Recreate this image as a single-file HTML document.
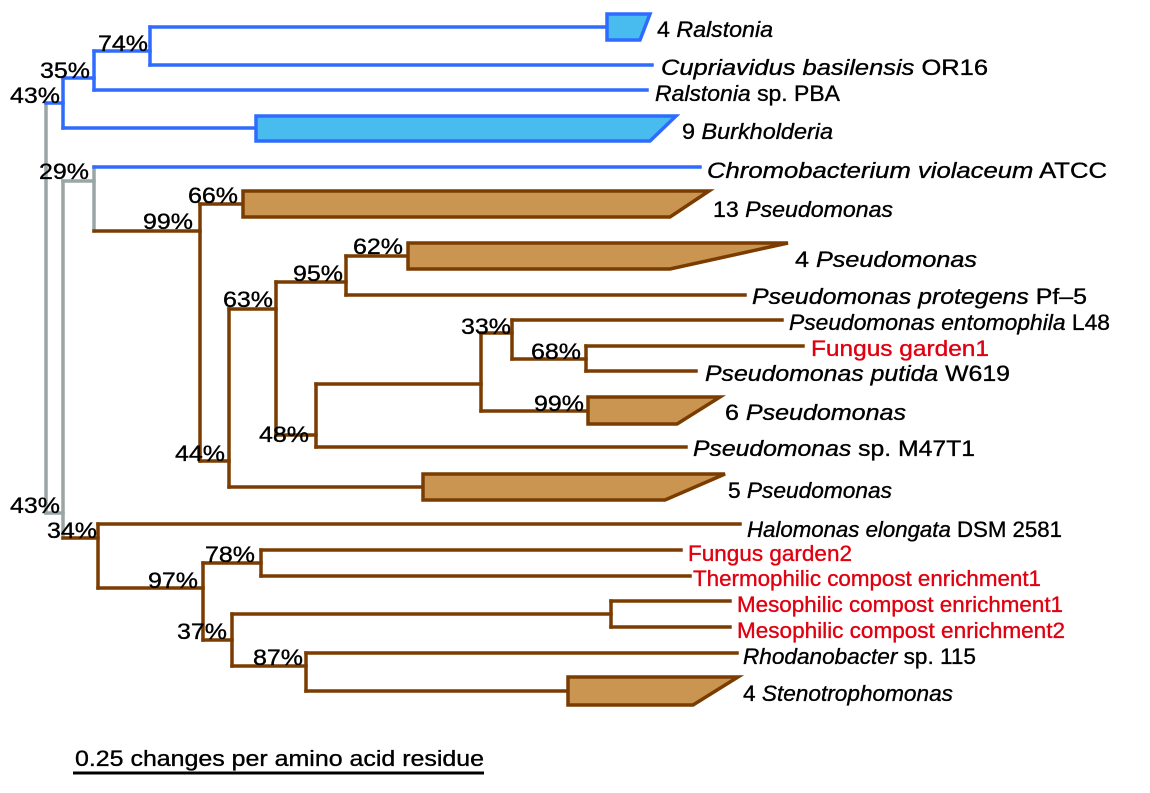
<!DOCTYPE html>
<html><head><meta charset="utf-8"><style>
html,body{margin:0;padding:0;background:#fff;}
svg{display:block;font-family:"Liberation Sans",Arial,sans-serif;}
.lab{font-size:22px;fill:#000;stroke:#000;stroke-width:0.35;}
.red{fill:#e00010;stroke:#e00010;}
.pct{font-size:22px;fill:#000;text-anchor:end;stroke:#000;stroke-width:0.35;}
</style></head><body>
<svg id="tree" width="1150" height="793" viewBox="0 0 1150 793" xmlns="http://www.w3.org/2000/svg"></svg>
<script>
// branch segments: [x1,y1,x2,y2]
var branchesBlue = [
 [46,103,63,103],[63,78,63,128],[63,78,94,78],[94,51,94,90],[94,51,150,51],[150,27,150,65],
 [150,27,607,27],[150,65,652,65],[94,90,647,90],[63,128,256,128],[94,167,700,167]
];
var branchesGray = [
 [46,103,46,513],[46,513,63,513],[63,181,63,538],[63,181,94,181],[94,167,94,231]
];
var branchesBrown = [
 [94,231,200,231],[200,204,200,461],[200,204,243,204],[200,461,229,461],[229,309,229,487],
 [229,309,276,309],[276,282,276,435],[276,282,346,282],[346,256,346,295],[346,256,408,256],
 [346,295,745,295],[276,435,316,435],[316,384,316,447],[316,384,481,384],[481,333,481,411],
 [481,333,512,333],[512,320,512,359],[512,320,782,320],[512,359,586,359],[586,346,586,371],
 [586,346,803,346],[586,371,696,371],[481,411,588,411],[316,447,686,447],[229,487,423,487],
 [63,538,98,538],[98,524,98,588],[98,524,740,524],[98,588,203,588],[203,563,203,640],
 [203,563,261,563],[261,550,261,576],[261,550,681,550],[261,576,690,576],[203,640,232,640],
 [232,614,232,666],[232,614,611,614],[611,601,611,627],[611,601,730,601],[611,627,730,627],
 [232,666,306,666],[306,653,306,691],[306,653,737,653],[306,691,568,691]
];
// collapsed clades: [xLeft, yTop, yBottom, xTopRight, xBottomRight, kind]
var clades = [
 [607,14,40,650,640,'b'],[256,116,141,676,650,'b'],
 [243,191,217,709,670,'t'],[408,243,269,788,670,'t'],[588,397,424,720,677,'t'],
 [423,474,500,725,665,'t'],[568,677,705,738,693,'t']
];
// tip labels: [x, baseline, endX, part1, part2, red?]
var tips = [
 [657,37,773,'4 ','Ralstonia',0],[661,75,988,'Cupriavidus basilensis',' OR16',0],
 [655,101,840,'Ralstonia',' sp. PBA',0],[682,139,833,'9 ','Burkholderia',0],
 [707,178,1107,'Chromobacterium violaceum',' ATCC',0],[713,217,893,'13 ','Pseudomonas',0],
 [795,267,977,'4 ','Pseudomonas',0],[752,304,1087,'Pseudomonas protegens',' Pf\u20135',0],
 [789,330,1110,'Pseudomonas entomophila',' L48',0],[811,356,989,'','Fungus garden1',1],
 [705,381,1010,'Pseudomonas putida',' W619',0],[725,420,906,'6 ','Pseudomonas',0],
 [693,456,975,'Pseudomonas',' sp. M47T1',0],[728,498,892,'5 ','Pseudomonas',0],
 [747,537,1062,'Halomonas elongata',' DSM 2581',0],[688,561,852,'','Fungus garden2',1],
 [693,586,1041,'','Thermophilic compost enrichment1',1],[737,612,1063,'','Mesophilic compost enrichment1',1],
 [737,638,1065,'','Mesophilic compost enrichment2',1],[743,664,976,'Rhodanobacter',' sp. 115',0],
 [743,701,953,'4 ','Stenotrophomonas',0]
];
var bootstrap = ['74%','35%','43%','29%','66%','99%','62%','95%','63%','33%','68%','99%','48%','44%','43%','34%','78%','97%','37%','87%'];
var bootPos = [[148,51],[90,78],[60,103],[89,179],[238,203],[193,229],[403,254],[343,281],[273,307],[511,334],[581,359],[584,411],[309,442],[225,461],[60,513],[97,538],[255,562],[198,588],[227,639],[303,665]];

var NS='http://www.w3.org/2000/svg';
var svg=document.getElementById('tree');
function mk(t,a){var e=document.createElementNS(NS,t);for(var k in a)e.setAttribute(k,a[k]);svg.appendChild(e);return e;}
function drawSegs(arr,col,name){
 arr.forEach(function(s){
  var l=mk('line',{x1:s[0],y1:s[1],x2:s[2],y2:s[3],stroke:col,'stroke-width':3.5,'stroke-linecap':'square'});
  
  
 });
}
drawSegs(branchesGray,'#9aa6a6','branch-backbone');
drawSegs(branchesBlue,'#2f6bff','branch-betaproteobacteria');
drawSegs(branchesBrown,'#7a3c00','branch-gammaproteobacteria');
clades.forEach(function(c){
 var blue=c[5]==='b';
 var p=mk('polygon',{points:c[0]+','+c[1]+' '+c[3]+','+c[1]+' '+c[4]+','+c[2]+' '+c[0]+','+c[2],
  fill:blue?'#48bcee':'#c99550',stroke:blue?'#2f6bff':'#7a3c00','stroke-width':3.5,'stroke-linejoin':'miter'});
 
 
});
tips.forEach(function(t){
 var tx=mk('text',{x:t[0],y:t[1],'class':'lab'+(t[5]?' red':''),textLength:(t[2]-t[0]),lengthAdjust:'spacingAndGlyphs'});
 
 
 var parts;
 if(t[5]) parts=[[t[4],0]];
 else if(/^\d+ $/.test(t[3])) parts=[[t[3],0],[t[4],1]];
 else parts=[[t[3],1],[t[4],0]];
 parts.forEach(function(p){var s=document.createElementNS(NS,'tspan');if(p[1])s.setAttribute('font-style','italic');s.textContent=p[0];tx.appendChild(s);});
});
bootstrap.forEach(function(b,i){
 var tx=mk('text',{x:bootPos[i][0],y:bootPos[i][1],'class':'pct',textLength:50,lengthAdjust:'spacingAndGlyphs'});
 
 
 tx.textContent=b;
});
var sb=mk('line',{x1:73,y1:773,x2:484,y2:773,stroke:'#000','stroke-width':3});


var st=mk('text',{x:75,y:766,'class':'lab',textLength:409,lengthAdjust:'spacingAndGlyphs'});


st.textContent='0.25 changes per amino acid residue';
</script>
</body></html>
